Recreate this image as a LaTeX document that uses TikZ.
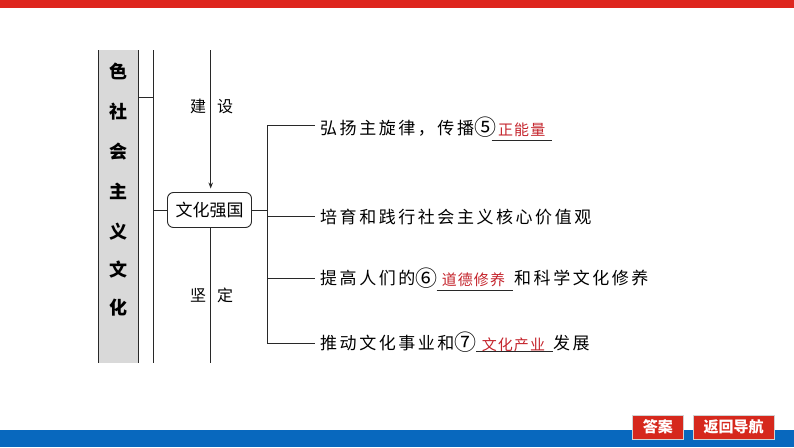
\documentclass[tikz,border=0pt]{standalone}
\usepackage{fontspec}
\setmainfont{Noto Sans CJK SC}
\newcommand{\circd}[1]{\raisebox{-1.5pt}{\makebox[19pt][l]{\fontsize{22}{22}\selectfont\addfontfeature{LetterSpace=0}#1}}}
\usetikzlibrary{arrows.meta}
\definecolor{topred}{RGB}{222,38,30}
\definecolor{botblue}{RGB}{8,104,190}
\definecolor{btnred}{RGB}{214,40,28}
\definecolor{ansred}{RGB}{196,36,44}
\definecolor{graycol}{RGB}{217,217,217}
\definecolor{linegray}{RGB}{40,40,40}
\tikzset{
  ln/.style={draw=linegray, line width=0.95pt},
  maintext/.style={anchor=base west, inner sep=0pt, font=\fontsize{17}{17}\selectfont\addfontfeature{LetterSpace=15}},
  redtext/.style={anchor=base west, inner sep=0pt, text=ansred, font=\fontsize{15}{15}\selectfont\addfontfeature{LetterSpace=7}},
  ul/.style={draw=linegray, line width=0.9pt},
  colchar/.style={anchor=base, inner sep=0pt, font=\fontsize{18}{18}\selectfont\bfseries},
  sidechar/.style={anchor=base, inner sep=0pt, font=\fontsize{16}{16}\selectfont},
  hubbox/.style={draw=linegray, line width=0.95pt, rounded corners=6pt, minimum width=84pt, minimum height=35pt, inner sep=0pt, font=\fontsize{17}{17}\selectfont},
  btn/.style={fill=btnred, draw=gray!35, line width=1pt, text=white, inner sep=0pt, minimum height=24pt, font=\fontsize{15}{15}\selectfont\bfseries}
}
\begin{document}
\begin{tikzpicture}[x=1pt,y=-1pt]
\useasboundingbox (0,0) rectangle (794,447);
% bars
\fill[topred] (0,0) rectangle (794,8);
\fill[botblue] (0,430) rectangle (794,447);
% left column
\fill[graycol] (98,50) rectangle (138,363);
\draw[ln] (98,50) -- (98,363);
\draw[ln] (138,50) -- (138,363);
\draw[ln] (153,50) -- (153,363);
\coordinate (c1) at (138,97.3);
\coordinate (c2) at (153,97.3);
\draw[ln] (c1) -- (c2);
\foreach \ch/\yy [count=\i] in {色/71.7,社/111.7,会/151.7,主/191.7,义/231.7,文/270,化/308}
  \node[colchar] (col\i) at (118,\yy+6.8) {\ch};
% hub
\node[hubbox] (hub) at (209.5,210) {文化强国};
\coordinate (hl) at (153,210);
\draw[ln] (hl) -- (hub.west);
\coordinate (atop) at (210.7,50);
\coordinate (abot) at (210.7,363);
\draw[ln, -{Stealth[length=6pt,width=4.5pt]}, shorten >=3.5pt] (atop) -- (atop |- hub.north);
\draw[ln] (abot |- hub.south) -- (abot);
\node[sidechar] (jian) at (198,106.7+6) {建};
\node[sidechar] (she) at (225,106.7+6) {设};
\node[sidechar] (kian) at (198,295+6) {坚};
\node[sidechar] (ding) at (225,295+6) {定};
% bracket
\coordinate (br) at (267.3,210);
\draw[ln] (hub.east) -- (br);
\coordinate (b1) at (267.3,125);
\coordinate (b4) at (267.3,343);
\draw[ln] (b1) -- (b4);
\coordinate (e1) at (315,125);
\coordinate (b2) at (267.3,216.7);
\coordinate (e2) at (315,216.7);
\coordinate (b3) at (267.3,278.3);
\coordinate (e3) at (315,278.3);
\coordinate (e4) at (315,343);
\draw[ln] (b1) -- (e1);
\draw[ln] (b2) -- (e2);
\draw[ln] (b3) -- (e3);
\draw[ln] (b4) -- (e4);
% texts
\node[maintext] (t1) at (320,134) {弘扬主旋律，传播\circd{⑤}};
\node[redtext] (r1) at (498,135) {正能量};
\draw[ul] (491.7,140) -- (551.7,140);
\node[maintext] (t2) at (320,223) {培育和践行社会主义核心价值观};
\node[maintext] (t3) at (320,284.5) {提高人们的\circd{⑥}};
\node[redtext] (r3) at (441.7,285.5) {道德修养};
\draw[ul] (436.7,290.7) -- (513.3,290.7);
\node[maintext] (t3b) at (514,284.5) {和科学文化修养};
\node[maintext] (t4) at (320,349) {推动文化事业和\circd{⑦}};
\node[redtext] (r4) at (481.7,350) {文化产业};
\draw[ul] (476,351.7) -- (552.7,351.7);
\node[maintext] (t4b) at (553,349) {发展};
% buttons
\node[btn, minimum width=51pt] (ans) at (657.8,427) {答案};
\node[btn, minimum width=81pt] (nav) at (733.5,427) {返回导航};
\end{tikzpicture}
\end{document}
